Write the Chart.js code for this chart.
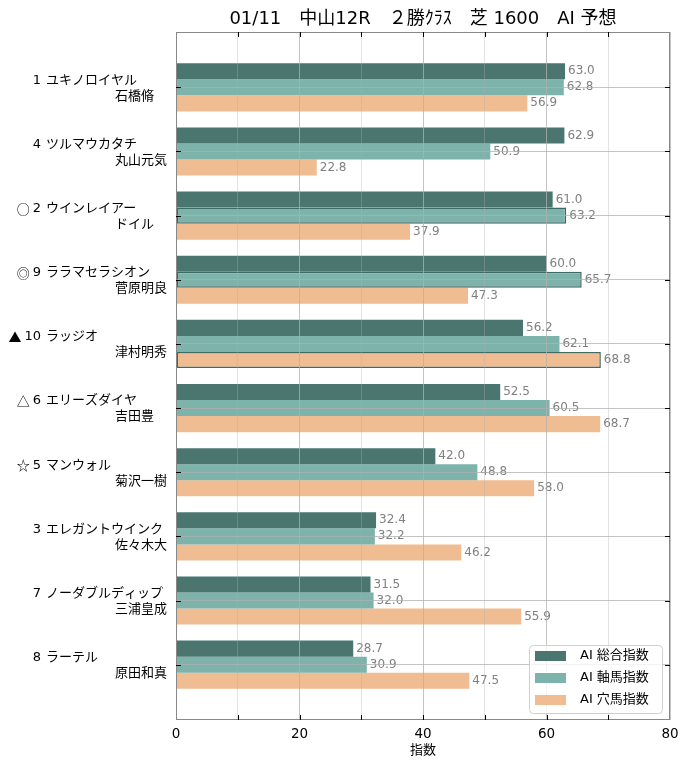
<!DOCTYPE html>
<html><head><meta charset="utf-8">
<script src="https://cdn.jsdelivr.net/npm/chart.js@4/dist/chart.umd.min.js"></script>
<style>html,body{margin:0;padding:0;background:#fff;} canvas{display:block;}</style>
</head><body>
<canvas id="c" width="690" height="770"></canvas>
<script>
const FONT = '"DejaVu Sans", "Noto Sans CJK JP", sans-serif';
const CJK = '"Noto Sans CJK JP", sans-serif';
const titleText = '01/11　中山12R　２勝ｸﾗｽ　芝 1600　AI 予想';
const horseNumbers = ['1','4','2','9','10','6','5','3','7','8'];
const marks = ['','','○','◎','▲','△','☆','','',''];
const horseNames = ['ユキノロイヤル','ツルマウカタチ','ウインレイアー','ララマセラシオン','ラッジオ','エリーズダイヤ','マンウォル','エレガントウインク','ノーダブルディップ','ラーテル'];
const jockeys = ['石橋脩','丸山元気','ドイル','菅原明良','津村明秀','吉田豊','菊沢一樹','佐々木大','三浦皇成','原田和真'];
const seriesNames = ['AI 総合指数','AI 軸馬指数','AI 穴馬指数'];
const sogo = [63.0, 62.9, 61.0, 60.0, 56.2, 52.5, 42.0, 32.4, 31.5, 28.7];
const jiku = [62.8, 50.9, 63.2, 65.7, 62.1, 60.5, 48.8, 32.2, 32.0, 30.9];
const ana  = [56.9, 22.8, 37.9, 47.3, 68.8, 68.7, 58.0, 46.2, 55.9, 47.5];
const sogoHighlight = [false,false,false,false,false,false,false,false,false,false];
const jikuHighlight = [false,false,true,true,false,false,false,false,false,false];
const anaHighlight  = [false,false,false,false,true,false,false,false,false,false];
const xTickLabels = [0,20,40,60,80];
const xAxisTitle = '指数';

const colors = ['#4b766f','#7db3ab','#efbd91'];
const GRID_MAJOR = 'rgba(176,176,176,0.75)';
const GRID_MINOR = 'rgba(176,176,176,0.35)';

function mk(vals, hl, i) {
  return {
    label: seriesNames[i],
    data: vals.map((v, k) => ({x: v, y: k})),
    backgroundColor: colors[i],
    borderColor: '#3d6a62',
    borderWidth: ctx => hl[ctx.dataIndex] ? 1.5 : 0,
    borderSkipped: false,
    categoryPercentage: 0.75,
    barPercentage: 1.0
  };
}

const valueLabels = {
  id: 'valueLabels',
  afterDatasetsDraw(chart) {
    const ctx = chart.ctx;
    ctx.save();
    ctx.font = '12px ' + FONT;
    ctx.fillStyle = '#808080';
    ctx.textAlign = 'left';
    ctx.textBaseline = 'middle';
    chart.data.datasets.forEach((ds, di) => {
      const meta = chart.getDatasetMeta(di);
      meta.data.forEach((el, k) => {
        ctx.fillText(ds.data[k].x.toFixed(1), el.x + 3, el.y);
      });
    });
    ctx.restore();
  }
};

const decor = {
  id: 'decor',
  afterDraw(chart) {
    const ctx = chart.ctx;
    const ca = chart.chartArea;
    const xs = chart.scales.x, ys = chart.scales.y;
    ctx.save();
    // spines
    ctx.strokeStyle = '#888';
    ctx.lineWidth = 1;
    ctx.strokeRect(Math.round(ca.left) + 0.5, Math.round(ca.top) + 0.5, Math.round(ca.right - ca.left) - 1, Math.round(ca.bottom - ca.top) - 1);
    // inward ticks
    ctx.strokeStyle = '#000';
    ctx.beginPath();
    for (let v = 10; v < 80; v += 10) {
      const px = Math.round(xs.getPixelForValue(v)) + 0.5;
      ctx.moveTo(px, ca.bottom); ctx.lineTo(px, ca.bottom - 5);
      ctx.moveTo(px, ca.top); ctx.lineTo(px, ca.top + 5);
    }
    for (let i = 0; i < horseNames.length; i++) {
      const py = Math.round(ys.getPixelForValue(i)) + 0.5;
      ctx.moveTo(ca.left, py); ctx.lineTo(ca.left + 5, py);
      ctx.moveTo(ca.right, py); ctx.lineTo(ca.right - 5, py);
    }
    ctx.stroke();
    // y labels
    ctx.fillStyle = '#000';
    ctx.textBaseline = 'middle';
    for (let i = 0; i < horseNames.length; i++) {
      const py = ys.getPixelForValue(i);
      const y1 = py - 7, y2 = py + 9;
      ctx.font = '13px ' + FONT;
      ctx.textAlign = 'right';
      ctx.fillText(horseNumbers[i], 41, y1);
      const nw = ctx.measureText(horseNumbers[i]).width;
      if (marks[i]) {
        ctx.font = '13px ' + CJK;
        ctx.fillText(marks[i], 41 - nw - 3, y1);
        ctx.font = '13px ' + FONT;
      }
      ctx.textAlign = 'left';
      ctx.fillText(horseNames[i], 46, y1);
      ctx.fillText(jockeys[i], 115, y2);
    }
    // title
    ctx.textAlign = 'center';
    ctx.font = '18px ' + FONT;
    ctx.fillText(titleText, (ca.left + ca.right) / 2, 19);
    // x axis title
    ctx.font = '13px ' + FONT;
    ctx.fillText(xAxisTitle, (ca.left + ca.right) / 2, 751);
    // legend
    const bx = 529.5, by = 645.5, bw = 133, bh = 68;
    ctx.beginPath();
    ctx.roundRect(bx, by, bw, bh, 4);
    ctx.fillStyle = 'rgba(255,255,255,0.8)';
    ctx.fill();
    ctx.strokeStyle = '#d0d0d0';
    ctx.stroke();
    ctx.textAlign = 'left';
    seriesNames.forEach((n, i) => {
      const cy = 656 + i * 22;
      ctx.fillStyle = colors[i];
      ctx.fillRect(535, cy - 5, 31, 10);
      ctx.fillStyle = '#000';
      ctx.fillText(n, 580, cy);
    });
    ctx.restore();
  }
};

new Chart(document.getElementById('c'), {
  type: 'bar',
  data: { datasets: [mk(sogo, sogoHighlight, 0), mk(jiku, jikuHighlight, 1), mk(ana, anaHighlight, 2)] },
  options: {
    indexAxis: 'y',
    responsive: false,
    animation: false,
    devicePixelRatio: 1,
    layout: { padding: { top: 32, right: 20, left: 0, bottom: 0 } },
    plugins: { legend: { display: false }, title: { display: false }, tooltip: { enabled: false } },
    scales: {
      x: {
        type: 'linear', position: 'bottom', min: 0, max: 80, offset: false,
        afterFit: s => { s.height = 50; },
        ticks: { stepSize: 10, autoSkip: false, maxRotation: 0,
          callback: v => xTickLabels.includes(v) ? String(v) : '',
          font: { size: 13.5, family: FONT }, color: '#000', padding: 6 },
        grid: { z: 1, drawTicks: false, lineWidth: 1, offset: false,
          color: c => (c.tick && c.tick.value % 20 === 0) ? GRID_MAJOR : GRID_MINOR },
        border: { display: false }
      },
      y: {
        type: 'linear', position: 'left', min: -0.8625, max: 9.8625, reverse: true, offset: false,
        afterFit: s => { s.width = 176; },
        afterBuildTicks: s => { s.ticks = horseNames.map((_, i) => ({ value: i })); },
        ticks: { display: false },
        grid: { z: 1, drawTicks: false, color: GRID_MAJOR, lineWidth: 1, offset: false },
        border: { display: false }
      }
    }
  },
  plugins: [valueLabels, decor]
});
</script>
</body></html>
